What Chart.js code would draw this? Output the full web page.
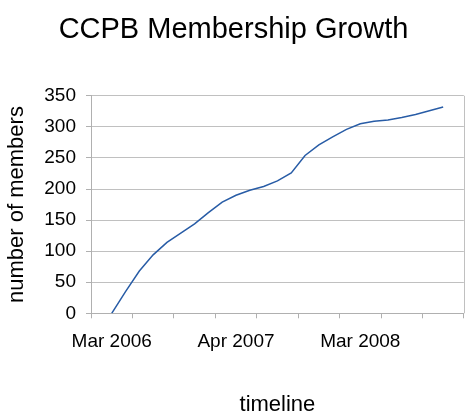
<!DOCTYPE html>
<html>
<head>
<meta charset="utf-8">
<script src="https://cdn.jsdelivr.net/npm/chart.js@4/dist/chart.umd.min.js"></script>
<style>
  html, body { margin: 0; padding: 0; background: #ffffff; }
  #wrap { width: 469px; height: 412px; }
</style>
</head>
<body>
<div id="wrap"><canvas id="c" width="469" height="412"></canvas></div>
<script>
// Categories along the timeline (only three are labelled in the original chart)
const categories = [
  '', 'Mar 2006', '', '', '', '', '', '', '', '',
  'Apr 2007', '', '', '', '', '', '', '', '',
  'Mar 2008', '', '', '', '', '', '', ''
];
// Number of members per category (null = no data)
const members = [
  null, 0, 35, 68, 94, 114, 129, 144, 162, 179,
  190, 198, 204, 213, 226, 254, 271, 284, 296, 305,
  309, 311, 315, 320, 326, 332, null
];
const yTicks = [0, 50, 100, 150, 200, 250, 300, 350];

const FONT = "'Liberation Sans', Arial, sans-serif";
const GRID = '#c0c0c0';
const AXIS = '#b0b0b0';

const rightBorder = {
  id: 'rightBorder',
  afterDraw(chart) {
    const { ctx, chartArea } = chart;
    ctx.save();
    ctx.strokeStyle = GRID;
    ctx.lineWidth = 1;
    ctx.beginPath();
    ctx.moveTo(Math.round(chartArea.right) + 0.5, chartArea.top);
    ctx.lineTo(Math.round(chartArea.right) + 0.5, chartArea.bottom);
    ctx.stroke();
    ctx.restore();
  }
};

new Chart(document.getElementById('c'), {
  type: 'line',
  data: {
    labels: categories,
    datasets: [{
      data: members,
      borderColor: '#285ca6',
      borderWidth: 1.5,
      pointRadius: 0,
      tension: 0,
      fill: false,
      spanGaps: false
    }]
  },
  plugins: [rightBorder],
  options: {
    responsive: false,
    devicePixelRatio: 1,
    animation: false,
    layout: { padding: { left: 0, right: 2, top: 0, bottom: 0 } },
    plugins: {
      legend: { display: false },
      tooltip: { enabled: false },
      title: {
        display: true,
        text: 'CCPB Membership Growth',
        color: '#000000',
        font: { family: FONT, size: 29, weight: 'normal' },
        padding: { top: 13, bottom: 48 }
      }
    },
    scales: {
      x: {
        type: 'category',
        offset: true,
        afterFit(scale) { scale.height = 98.7; },
        grid: {
          offset: true,
          drawOnChartArea: false,
          drawTicks: true,
          tickLength: 5,
          color: (ctx) => (ctx.type !== 'tick' || ctx.index % 3 === 0) ? AXIS : 'rgba(0,0,0,0)'
        },
        border: { display: true, color: AXIS, width: 1 },
        ticks: {
          autoSkip: false,
          maxRotation: 0,
          minRotation: 0,
          padding: 12,
          color: '#000000',
          font: { family: FONT, size: 19 },
          callback: function (value, index) { return categories[index]; }
        },
        title: {
          display: true,
          text: 'timeline',
          color: '#000000',
          font: { family: FONT, size: 22, lineHeight: 0.6 },
          padding: { top: 0, bottom: 0 }
        }
      },
      y: {
        min: 0,
        max: 350,
        afterFit(scale) { scale.width = 91; },
        afterBuildTicks(scale) { scale.ticks = yTicks.map(v => ({ value: v })); },
        grid: {
          color: GRID,
          drawTicks: true,
          tickLength: 5,
          tickColor: AXIS
        },
        border: { display: true, color: AXIS, width: 1 },
        ticks: {
          padding: 10,
          color: '#000000',
          font: { family: FONT, size: 19 }
        },
        title: {
          display: true,
          text: 'number of members',
          color: '#000000',
          font: { family: FONT, size: 22 },
          padding: { top: 4, bottom: 0 }
        }
      }
    }
  }
});
</script>
</body>
</html>
